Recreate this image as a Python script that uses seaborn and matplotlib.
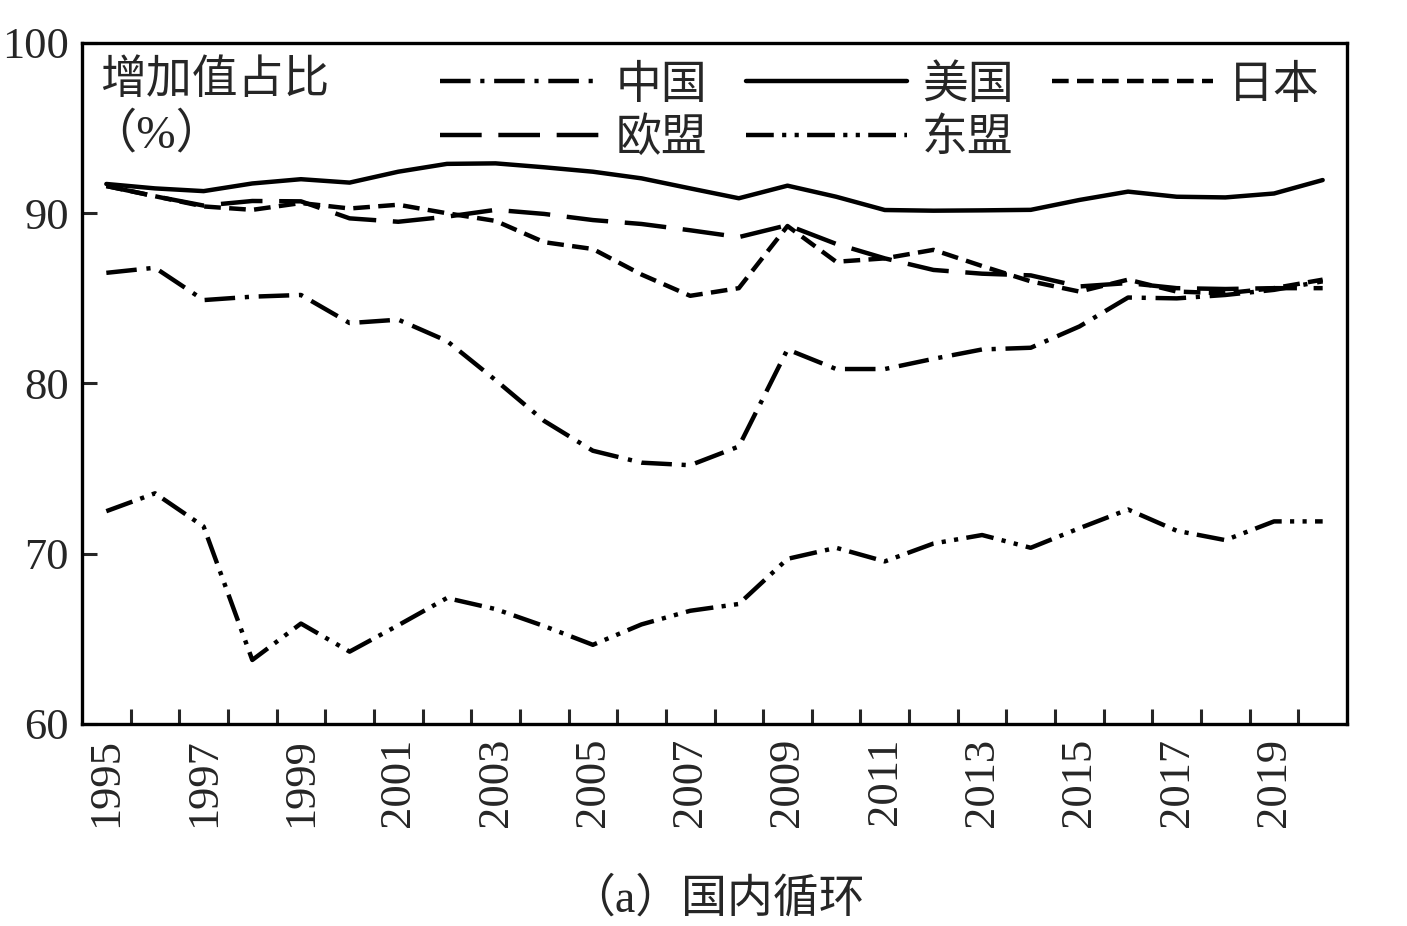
import matplotlib
matplotlib.use("Agg")
import matplotlib.pyplot as plt
import seaborn as sns
import numpy as np
import pandas as pd

years = list(range(1995, 2021))
china = [86.5, 86.8, 84.9, 85.1, 85.2, 83.55, 83.75, 82.5, 80.2, 77.8, 76.05, 75.35, 75.2,
         76.3, 82.0, 80.85, 80.85, 81.45, 82.0, 82.1, 83.35, 85.05, 85.0, 85.2, 85.5, 86.0]
usa = [91.72, 91.46, 91.3, 91.75, 92.0, 91.8, 92.44, 92.9, 92.93, 92.7, 92.44, 92.05, 91.46,
       90.88, 91.62, 90.97, 90.19, 90.15, 90.17, 90.2, 90.78, 91.27, 90.97, 90.93, 91.16, 91.95]
japan = [91.6, 91.0, 90.4, 90.2, 90.6, 90.28, 90.5, 90.0, 89.55, 88.3, 87.9, 86.4, 85.15,
         85.6, 89.25, 87.15, 87.35, 87.85, 86.9, 86.0, 85.4, 86.1, 85.4, 85.3, 85.6, 86.1]
eu = [91.6, 91.0, 90.45, 90.72, 90.7, 89.7, 89.5, 89.8, 90.2, 89.96, 89.6, 89.37, 89.0,
      88.6, 89.3, 88.2, 87.35, 86.67, 86.45, 86.35, 85.7, 85.9, 85.6, 85.55, 85.6, 85.6]
asean = [72.5, 73.55, 71.6, 63.76, 65.9, 64.25, 65.8, 67.4, 66.75, 65.75, 64.65, 65.85, 66.65,
         67.05, 69.7, 70.35, 69.55, 70.6, 71.1, 70.35, 71.5, 72.6, 71.35, 70.8, 71.9, 71.9]

names = ["中国", "欧盟", "美国", "东盟", "日本"]
series = [china, eu, usa, asean, japan]
ylabel_lines = ["增加值占比", "（%）"]
caption = "（a）国内循环"

sns.set_theme(style="white")
plt.rcParams["lines.scale_dashes"] = False
plt.rcParams["font.family"] = ["Liberation Serif", "Noto Sans CJK SC"]

styles = {
    "中国": (0, (22, 7, 3, 7)),
    "欧盟": (0, (30, 12)),
    "美国": "-",
    "东盟": (0, (20, 6, 3, 6, 3, 6)),
    "日本": (0, (12, 6)),
}

fig = plt.figure(figsize=(14.07, 9.26), dpi=100)
ax = fig.add_axes([82 / 1407, 1 - 724 / 926, (1347 - 82) / 1407, (724 - 43) / 926])

for name, vals in zip(names, series):
    df = pd.DataFrame({"year": years, "value": vals})
    sns.lineplot(data=df, x="year", y="value", ax=ax, color="black", lw=3.2,
                 linestyle=styles[name], label=name, legend=False)

ax.set_xlim(1994.5, 2020.5)
ax.set_ylim(60, 100)
ax.set_xlabel("")
ax.set_ylabel("")

ax.set_xticks(years[::2])
ax.set_xticklabels([str(y) for y in years[::2]], rotation=90, fontsize=32,
                   family="Liberation Serif")
ax.set_xticks(np.arange(1995.5, 2020, 1.0), minor=True)
ax.tick_params(axis="x", which="major", length=0, pad=10)
ax.tick_params(axis="x", which="minor", direction="in", length=11, width=2.2, bottom=True)

ax.set_yticks([60, 70, 80, 90, 100])
ax.set_yticklabels(["60", "70", "80", "90", "100"], fontsize=32, family="Liberation Serif")
ax.tick_params(axis="y", which="major", direction="in", length=11, width=2.2, left=True, pad=9.5)

for sp in ax.spines.values():
    sp.set_color("black")
    sp.set_linewidth(2.4)
    sp.set_visible(True)

ax.text(0.014, 0.946, ylabel_lines[0], transform=ax.transAxes, fontsize=33,
        family="Noto Sans CJK SC", va="center", ha="left")
ax.text(0.006, 0.865, ylabel_lines[1], transform=ax.transAxes, fontsize=34,
        family=["Liberation Serif", "Noto Sans CJK SC"], va="center", ha="left")

handles, labels = ax.get_legend_handles_labels()
leg = ax.legend(handles, labels, ncol=3, loc="upper left", bbox_to_anchor=(0.283, 0.975),
                frameon=False, handlelength=3.5, handletextpad=0.33,
                columnspacing=0.85, labelspacing=0.1, borderaxespad=0, borderpad=0,
                prop={"family": "Noto Sans CJK SC", "size": 33})

fig.text(717 / 1407, 1 - 900 / 926, caption, ha="center", va="center", fontsize=33,
         family=["Liberation Serif", "Noto Sans CJK SC"])

fig.savefig("out.png", dpi=100, facecolor="white")
